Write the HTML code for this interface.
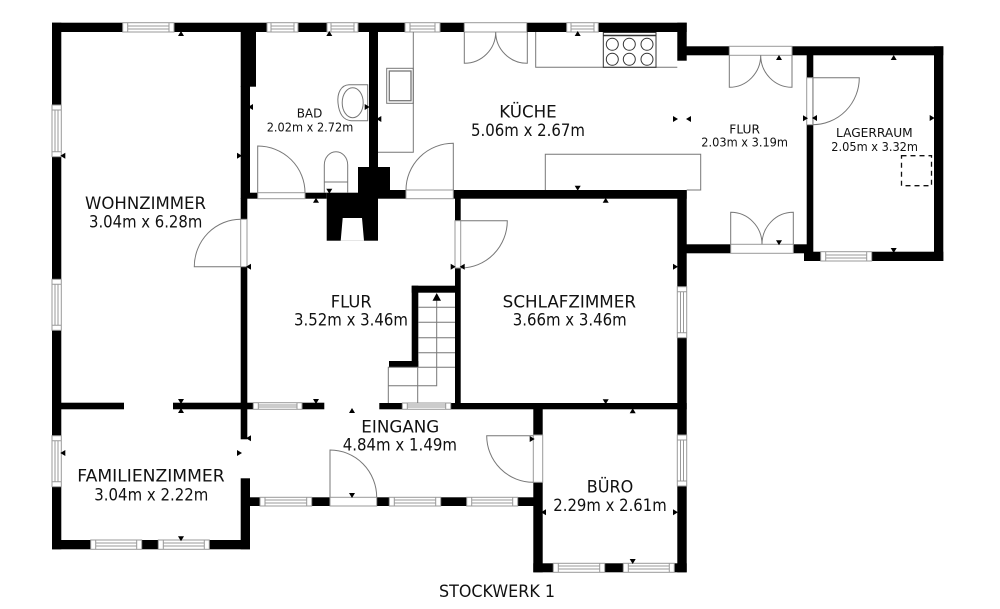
<!DOCTYPE html>
<html><head><meta charset="utf-8"><style>
html,body{margin:0;padding:0;background:#fff}
svg{display:block}
text{font-family:"DejaVu Sans","Liberation Sans",sans-serif;fill:#111}
.b{font-size:16.5px}.s{font-size:12.8px}
</style></head><body>
<svg width="1000" height="609" viewBox="0 0 1000 609" xmlns="http://www.w3.org/2000/svg">
<defs>
<path id="u" d="M-3 2h6l-3-5z"/><path id="d" d="M-3-2h6l-3 5z"/>
<path id="l" d="M2-3v6l-5-3z"/><path id="r" d="M-2-3v6l5-3z"/>
</defs>
<!-- walls -->
<g fill="#000">
<rect x="52" y="22.7" width="634.7" height="9.3"/>
<rect x="52" y="22.7" width="9.3" height="526.6"/>
<rect x="52" y="540" width="198" height="9.3"/>
<rect x="240.7" y="32" width="15.3" height="54.7"/>
<rect x="240.7" y="86" width="9.3" height="112.7"/>
<rect x="240.7" y="198" width="6.6" height="241.3"/>
<rect x="240.7" y="478.3" width="9.3" height="71"/>
<rect x="250" y="192.7" width="76.7" height="6"/>
<rect x="326.7" y="192.7" width="51.3" height="48"/>
<rect x="358" y="167" width="32" height="31.7"/>
<rect x="369" y="32" width="9" height="138"/>
<rect x="390" y="190" width="296.7" height="8.7"/>
<rect x="455" y="198" width="5.7" height="205.5"/>
<rect x="411.7" y="285.7" width="48" height="7"/>
<rect x="411.7" y="285.7" width="6.6" height="81.3"/>
<rect x="389" y="361" width="29.3" height="6.3"/>
<rect x="677.3" y="22.7" width="9.4" height="38"/>
<rect x="677.3" y="190" width="9.4" height="382.3"/>
<rect x="686" y="46.3" width="257.3" height="9"/>
<rect x="934" y="46.3" width="9.3" height="214.7"/>
<rect x="804" y="251.7" width="139.3" height="9.3"/>
<rect x="806.7" y="55" width="6.6" height="199"/>
<rect x="686" y="244.3" width="121" height="9"/>
<rect x="61" y="402.7" width="63" height="6.6"/>
<rect x="173" y="402.7" width="151.3" height="6.6"/>
<rect x="379.3" y="403" width="307.4" height="6.3"/>
<rect x="533.3" y="403" width="9.4" height="169.3"/>
<rect x="533.3" y="563.3" width="153.4" height="9"/>
<rect x="247" y="497.3" width="286.5" height="8.7"/>
</g>
<polygon points="342.7,218 362,218 364,240.7 340.7,240.7" fill="#fff"/>
<!-- openings -->
<g fill="#fff" stroke="#999" stroke-width="1">
<rect x="464.3" y="22.7" width="62.4" height="9.3"/>
<rect x="729.3" y="46.3" width="62.7" height="9"/>
<rect x="730.7" y="244.3" width="62.6" height="9"/>
<rect x="257.7" y="192.7" width="47.3" height="6"/>
<rect x="406" y="190" width="47.3" height="8.7"/>
<rect x="330" y="497.3" width="46.7" height="8.7"/>
<rect x="533.3" y="435" width="9.4" height="47.3"/>
<rect x="240.7" y="219.3" width="6.3" height="47.4"/>
<rect x="455" y="220.7" width="5.7" height="47.3"/>
<rect x="806.7" y="77.7" width="6" height="47"/>
<!-- horizontal windows -->
<rect x="122.7" y="22.7" width="51.3" height="9.3"/>
<rect x="267" y="22.7" width="31" height="9.3"/>
<rect x="327" y="22.7" width="31" height="9.3"/>
<rect x="405" y="22.7" width="35" height="9.3"/>
<rect x="566.7" y="22.7" width="31.6" height="9.3"/>
<rect x="820.7" y="251.7" width="51" height="9.3"/>
<rect x="253.3" y="402.7" width="48.7" height="6.6"/>
<rect x="402.3" y="403" width="48.4" height="6.3"/>
<rect x="90.7" y="540" width="51" height="9.3"/>
<rect x="158.3" y="540" width="51" height="9.3"/>
<rect x="260" y="497.3" width="51.7" height="8.7"/>
<rect x="389.3" y="497.3" width="51.4" height="8.7"/>
<rect x="466.7" y="497.3" width="51" height="8.7"/>
<rect x="553.3" y="563.3" width="51.4" height="9"/>
<rect x="623.3" y="563.3" width="51" height="9"/>
<!-- vertical windows -->
<rect x="52" y="105" width="9.3" height="51.7"/>
<rect x="52" y="279.3" width="9.3" height="51"/>
<rect x="52" y="435.7" width="9.3" height="51"/>
<rect x="677.3" y="286.7" width="9.4" height="51"/>
<rect x="677.3" y="435" width="9.4" height="51"/>
</g>
<!-- window details -->
<path fill="none" stroke="#999" stroke-width="1" d="
M127.7 23V32M169 23V32M128 26H169M128 29H169
M271 23V32M294 23V32M271 26H294M271 29H294
M331 23V32M354 23V32M331 26H354M331 29H354
M410 23V32M435 23V32M410 26H435M410 29H435
M571 23V32M594 23V32M571 26H594M571 29H594
M825.7 252V261M866.7 252V261M826 255H867M826 258H867
M258.3 403V409M297 403V409M258 405H297M258 407H297
M407.3 403V409M445.7 403V409M407 405H446M407 407H446
M95.7 540V549M136.7 540V549M96 543H137M96 546H137
M163.3 540V549M204.3 540V549M163 543H204M163 546H204
M265 497.5V506M306.7 497.5V506M265 500H307M265 503H307
M394.3 497.5V506M435.7 497.5V506M394 500H436M394 503H436
M471.7 497.5V506M512.7 497.5V506M472 500H513M472 503H513
M558.3 563.5V572M599.7 563.5V572M558 566H600M558 569H600
M628.3 563.5V572M669.3 563.5V572M628 566H669M628 569H669
M52 110H61M52 151.7H61M55 110V152M58 110V152
M52 284.3H61M52 325.3H61M55 284V325M58 284V325
M52 440.7H61M52 481.7H61M55 441V482M58 441V482
M677.5 291.7H686.5M677.5 332.7H686.5M680.5 292V333M683.5 292V333
M677.5 440H686.5M677.5 481H686.5M680.5 440V481M683.5 440V481
"/>
<!-- doors and fixtures -->
<g fill="none" stroke="#777" stroke-width="1">
<path d="M257.7 192.7V146A47.3 46.7 0 0 1 305 192.7"/>
<path d="M240.7 219.3A46.4 47.4 0 0 0 194.3 266.7H240.7"/>
<path d="M453.3 190V143.3A47.3 46.7 0 0 0 406 190"/>
<path d="M460.7 220.7H507.3A46.6 47.3 0 0 1 460.7 268"/>
<path d="M464.3 32V63.3A31.4 31.3 0 0 0 495.7 32A31.6 31.3 0 0 0 527.3 63.3V32"/>
<path d="M729.3 55.3V87.3A31.4 32 0 0 0 760.7 55.3A31.3 32 0 0 0 792 87.3V55.3"/>
<path d="M730.7 244.3V212.3A31.3 32 0 0 1 762 244.3A31.3 32 0 0 1 793.3 212.3V244.3"/>
<path d="M812.7 77.7H859.3A46.6 47 0 0 1 812.7 124.7"/>
<path d="M330 497.3V450A46.7 47.3 0 0 1 376.7 497.3"/>
<path d="M533.3 435.7H486.7A46.6 46.6 0 0 0 533.3 482.3"/>
<path d="M378 152.3H413.3V32"/>
<rect x="386.7" y="68.3" width="26.6" height="35"/>
<rect x="389.3" y="71" width="21.7" height="29.7" stroke-width="1.3"/>
<path d="M535.7 32V67.3H677.3"/>
<path d="M545.3 190V154.3H700.7V190H686.7"/>
<path d="M367.7 84.7H349C341 85 337 93 338 103C339 113 343 120 351 120.7H367.7Z"/>
<ellipse cx="352.7" cy="102.7" rx="10.5" ry="15"/>
<path d="M324.3 192.7V165A11.7 13.3 0 0 1 347.7 165V192.7M324.3 182H347.7"/>
<path d="M388.3 403V367.3H455M417.7 367V403M418.3 307.3H455M418.3 322.3H455M418.3 337.7H455M418.3 352.7H455M388.3 385.7H436.7V298"/>
</g>
<g fill="none" stroke="#333" stroke-width="1">
<rect x="603.3" y="32.5" width="52.7" height="34.8"/>
<path d="M603.3 35.5H656" stroke-width="1.5"/>
<circle cx="612.3" cy="44.3" r="6"/><circle cx="629.3" cy="44.3" r="6"/><circle cx="647" cy="44.3" r="6"/>
<circle cx="612.3" cy="59.3" r="6"/><circle cx="629.3" cy="59.3" r="6"/><circle cx="647" cy="59.3" r="6"/>
<rect x="901.5" y="155.7" width="30" height="30" stroke="#111" stroke-width="1.3" stroke-dasharray="5 4"/>
</g>
<polygon points="436.7,293 432.5,300.7 441,300.7" fill="#000"/>
<!-- markers -->
<g fill="#000">
<use href="#u" x="181" y="34"/><use href="#u" x="329.3" y="34"/><use href="#l" x="251" y="107"/><use href="#r" x="366.7" y="107"/>
<use href="#l" x="63.3" y="155.7"/><use href="#r" x="239" y="155.7"/><use href="#u" x="316" y="200.7"/><use href="#d" x="329.3" y="190.7"/><use href="#l" x="249" y="266.7"/>
<use href="#u" x="577.7" y="34"/><use href="#l" x="379.3" y="119"/><use href="#r" x="675" y="119"/><use href="#l" x="689" y="119"/>
<use href="#d" x="577.7" y="187.7"/><use href="#u" x="605.7" y="200.7"/><use href="#r" x="452.7" y="266.7"/><use href="#l" x="462.7" y="266.7"/><use href="#r" x="675" y="266.7"/>
<use href="#u" x="779" y="58"/><use href="#u" x="893.7" y="58"/><use href="#r" x="805" y="118.3"/><use href="#l" x="815" y="118"/><use href="#r" x="931.7" y="118"/>
<use href="#d" x="779" y="242.3"/><use href="#d" x="893.7" y="250"/>
<use href="#d" x="181" y="401"/><use href="#u" x="181" y="411"/><use href="#d" x="316" y="401"/><use href="#u" x="352" y="411"/><use href="#l" x="249" y="438.3"/>
<use href="#l" x="63.3" y="453"/><use href="#r" x="239" y="453"/><use href="#d" x="181" y="538.3"/><use href="#d" x="352" y="495"/>
<use href="#d" x="605.7" y="401.3"/><use href="#u" x="632.7" y="411.3"/><use href="#r" x="531.7" y="439"/><use href="#l" x="544" y="512.3"/><use href="#r" x="675" y="512.3"/><use href="#d" x="632.7" y="561"/>
</g>
<!-- labels -->
<g>
<text class="b" x="85" y="209" textLength="121" lengthAdjust="spacingAndGlyphs">WOHNZIMMER</text>
<text class="b" x="89" y="227.3" textLength="113.3" lengthAdjust="spacingAndGlyphs">3.04m x 6.28m</text>
<text class="s" x="296.7" y="117.7" textLength="25.6" lengthAdjust="spacingAndGlyphs">BAD</text>
<text class="s" x="266.7" y="131.7" textLength="86.6" lengthAdjust="spacingAndGlyphs">2.02m x 2.72m</text>
<text class="b" x="499.3" y="117.7" textLength="57.4" lengthAdjust="spacingAndGlyphs">KÜCHE</text>
<text class="b" x="471" y="136" textLength="114" lengthAdjust="spacingAndGlyphs">5.06m x 2.67m</text>
<text class="s" x="729.3" y="133.3" textLength="30.7" lengthAdjust="spacingAndGlyphs">FLUR</text>
<text class="s" x="701.3" y="146.7" textLength="86.7" lengthAdjust="spacingAndGlyphs">2.03m x 3.19m</text>
<text class="s" x="836" y="137" textLength="76.7" lengthAdjust="spacingAndGlyphs">LAGERRAUM</text>
<text class="s" x="831.3" y="151" textLength="86.7" lengthAdjust="spacingAndGlyphs">2.05m x 3.32m</text>
<text class="b" x="330.7" y="307.3" textLength="41" lengthAdjust="spacingAndGlyphs">FLUR</text>
<text class="b" x="294" y="325.7" textLength="114" lengthAdjust="spacingAndGlyphs">3.52m x 3.46m</text>
<text class="b" x="502.7" y="307.7" textLength="133.3" lengthAdjust="spacingAndGlyphs">SCHLAFZIMMER</text>
<text class="b" x="512.7" y="325.7" textLength="114" lengthAdjust="spacingAndGlyphs">3.66m x 3.46m</text>
<text class="b" x="361.3" y="432.3" textLength="78" lengthAdjust="spacingAndGlyphs">EINGANG</text>
<text class="b" x="342.7" y="450.3" textLength="114.3" lengthAdjust="spacingAndGlyphs">4.84m x 1.49m</text>
<text class="b" x="77.3" y="481.7" textLength="147.4" lengthAdjust="spacingAndGlyphs">FAMILIENZIMMER</text>
<text class="b" x="94.3" y="500.3" textLength="114" lengthAdjust="spacingAndGlyphs">3.04m x 2.22m</text>
<text class="b" x="586.7" y="492.7" textLength="46.6" lengthAdjust="spacingAndGlyphs">BÜRO</text>
<text class="b" x="553.3" y="511" textLength="113.4" lengthAdjust="spacingAndGlyphs">2.29m x 2.61m</text>
<text class="b" x="439" y="597" textLength="116" lengthAdjust="spacingAndGlyphs">STOCKWERK 1</text>
</g>
</svg>
</body></html>
